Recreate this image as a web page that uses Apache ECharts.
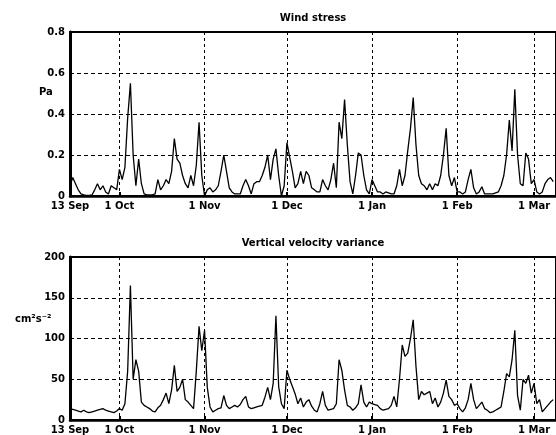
<!DOCTYPE html>
<html>
<head>
<meta charset="utf-8">
<script src="https://cdn.jsdelivr.net/npm/echarts@6/dist/echarts.min.js"></script>
<style>
html,body{margin:0;padding:0;background:#fff;}
#chart{width:556px;height:435px;}
</style>
</head>
<body>
<div id="chart"></div>
<script>
// Day index 0 = 13 Sep
const tickDays = [0, 18, 49, 79, 110, 141, 169];
const tickLabels = ['13 Sep', '1 Oct', '1 Nov', '1 Dec', '1 Jan', '1 Feb', '1 Mar'];
const windTicks = [0, 0.2, 0.4, 0.6, 0.8];
const velTicks = [0, 50, 100, 150, 200];

const windStress = [
  0.05,0.09,0.06,0.03,0.01,0.005,0.003,0.003,0.005,0.03,
  0.06,0.03,0.05,0.02,0.01,0.05,0.04,0.03,0.13,0.08,
  0.14,0.38,0.55,0.2,0.05,0.18,0.06,0.01,0.005,0.005,
  0.005,0.01,0.08,0.03,0.05,0.08,0.06,0.12,0.28,0.18,
  0.16,0.1,0.06,0.04,0.1,0.05,0.15,0.36,0.1,0.0,
  0.03,0.04,0.02,0.03,0.05,0.12,0.2,0.12,0.04,0.02,
  0.01,0.01,0.01,0.05,0.08,0.05,0.01,0.06,0.07,0.07,
  0.1,0.14,0.2,0.08,0.18,0.23,0.1,0.0,0.05,0.26,
  0.19,0.12,0.04,0.06,0.12,0.06,0.12,0.1,0.04,0.03,
  0.02,0.02,0.08,0.05,0.03,0.08,0.16,0.04,0.36,0.28,
  0.47,0.25,0.07,0.01,0.1,0.21,0.2,0.1,0.03,0.01,
  0.08,0.05,0.02,0.02,0.01,0.02,0.015,0.01,0.01,0.05,
  0.13,0.05,0.1,0.22,0.33,0.48,0.25,0.1,0.06,0.05,
  0.03,0.06,0.03,0.06,0.05,0.1,0.2,0.33,0.1,0.05,
  0.09,0.02,0.02,0.01,0.02,0.08,0.13,0.04,0.01,0.02,
  0.045,0.01,0.01,0.01,0.01,0.015,0.02,0.05,0.1,0.2,
  0.37,0.22,0.52,0.2,0.06,0.05,0.21,0.18,0.06,0.08,
  0.02,0.01,0.02,0.06,0.08,0.09,0.07
];

const velVariance = [
  14,13,12,11,10,12,10,9,10,11,
  12,13,14,12,11,10,9,11,14,12,
  20,60,165,50,74,60,22,18,16,14,
  11,10,15,18,25,33,20,37,67,35,
  40,50,25,22,18,14,60,115,85,110,
  40,16,10,12,14,15,30,18,14,16,
  18,16,19,25,29,16,14,15,16,17,
  18,28,40,25,45,128,41,20,14,61,
  50,41,32,20,27,16,22,25,17,12,
  10,20,35,18,12,13,14,20,74,61,
  37,18,16,12,15,20,43,22,16,22,
  20,19,18,14,12,13,14,18,29,16,
  50,92,78,82,100,123,66,25,35,31,
  33,35,20,27,16,22,33,49,29,25,
  18,20,14,10,15,25,45,25,14,18,
  22,14,12,9,10,12,14,16,35,57,
  53,74,110,30,12,50,45,55,33,45,
  20,25,10,14,18,22,25
];

const days = Array.from({length: 178}, (_, i) => i);

const FONT = '"DejaVu Sans", sans-serif';
const isTick = (i) => tickDays.indexOf(i) >= 0;

function xAxisFor(gridIndex) {
  return {
    type: 'category', gridIndex, data: days, boundaryGap: false,
    axisLine: { show: true, lineStyle: { color: '#000', width: 2.5 } },
    axisTick: { show: true, inside: true, length: 4, interval: (i) => isTick(i), lineStyle: { color: '#000', width: 2 } },
    axisLabel: {
      interval: (i) => isTick(i),
      formatter: (v, i) => tickLabels[tickDays.indexOf(Number(v))] || '',
      color: '#000', fontFamily: FONT, fontWeight: 'bold', fontSize: 10, margin: 5
    },
    splitLine: { show: true, interval: (i) => isTick(i), lineStyle: { color: '#000', width: 1, type: [3, 3] } }
  };
}
function yAxisFor(gridIndex, ticks, fmt) {
  return {
    type: 'value', gridIndex, min: ticks[0], max: ticks[ticks.length - 1],
    interval: ticks[1] - ticks[0],
    axisLine: { show: true, lineStyle: { color: '#000', width: 3 } },
    axisTick: { show: false },
    axisLabel: { formatter: fmt, color: '#000', fontFamily: FONT, fontWeight: 'bold', fontSize: 10, margin: 5 },
    splitLine: { show: true, lineStyle: { color: '#000', width: 1, type: [4, 3] } }
  };
}

const chart = echarts.init(document.getElementById('chart'), null, { renderer: 'canvas' });
chart.setOption({
  animation: false,
  backgroundColor: '#fff',
  grid: [
    { left: 70, top: 32, right: -1, height: 164, show: true, borderColor: '#000', borderWidth: 2, containLabel: false },
    { left: 70, top: 257, right: -1, height: 163, show: true, borderColor: '#000', borderWidth: 2, containLabel: false }
  ],
  xAxis: [xAxisFor(0), xAxisFor(1)],
  yAxis: [
    yAxisFor(0, windTicks, (v) => v === 0 ? '0' : v.toFixed(1)),
    yAxisFor(1, velTicks, (v) => String(v))
  ],
  series: [
    { type: 'line', xAxisIndex: 0, yAxisIndex: 0, data: windStress, showSymbol: false, symbol: 'none',
      lineStyle: { color: '#000', width: 1.3 } },
    { type: 'line', xAxisIndex: 1, yAxisIndex: 1, data: velVariance, showSymbol: false, symbol: 'none',
      lineStyle: { color: '#000', width: 1.3 } }
  ],
  graphic: [
    { type: 'text', x: 313, y: 18, style: { text: 'Wind stress', align: 'center', verticalAlign: 'middle', font: 'bold 10px ' + FONT, fill: '#000' } },
    { type: 'text', x: 313, y: 243, style: { text: 'Vertical velocity variance', align: 'center', verticalAlign: 'middle', font: 'bold 10px ' + FONT, fill: '#000' } },
    { type: 'text', x: 39, y: 92, style: { text: 'Pa', align: 'left', verticalAlign: 'middle', font: 'bold 10px ' + FONT, fill: '#000' } },
    { type: 'text', x: 15, y: 319, style: { text: 'cm²s⁻²', align: 'left', verticalAlign: 'middle', font: 'bold 10px ' + FONT, fill: '#000' } }
  ]
});
</script>
</body>
</html>
